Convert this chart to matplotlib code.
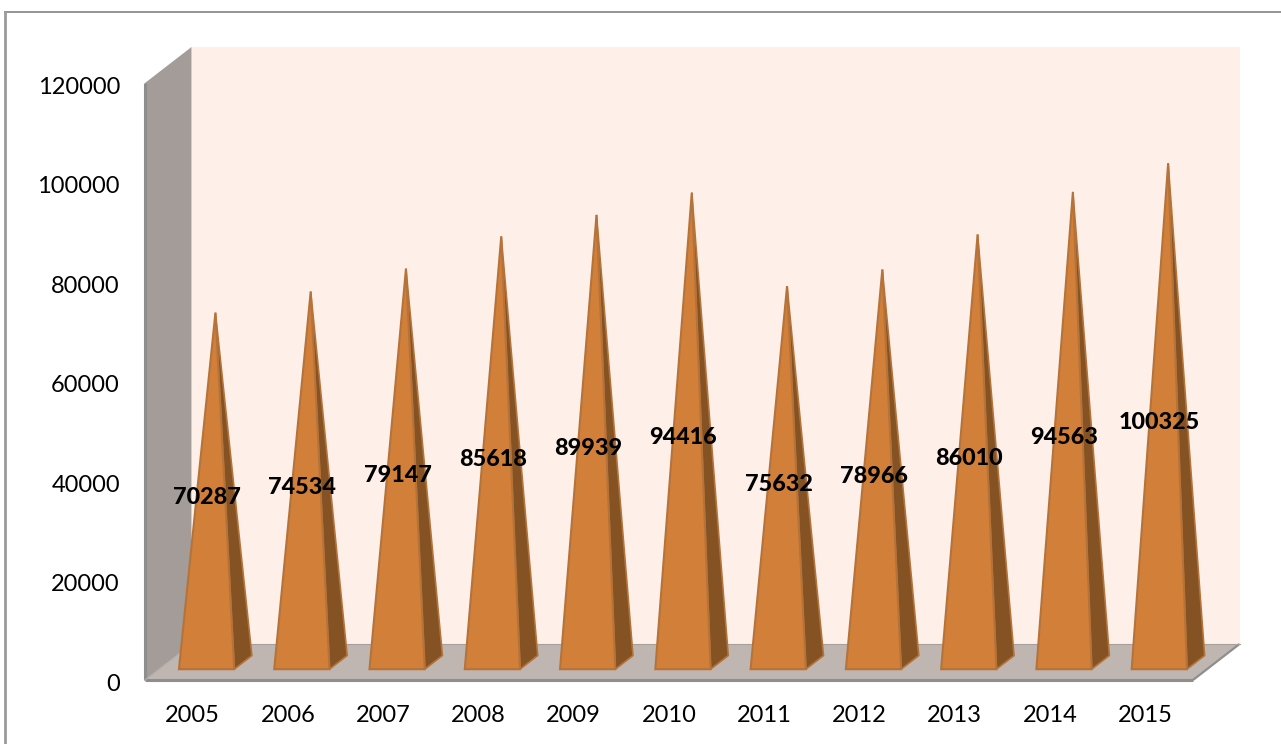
#!/bin/env python3

import numpy as np
from matplotlib import pyplot as plt
from matplotlib.lines import Line2D
from matplotlib.patches import Polygon
from matplotlib.transforms import ScaledTranslation

years  = ['2005', '2006', '2007', '2008', '2009', '2010', '2011', '2012', '2013', '2014', '2015']
values = [70287, 74534, 79147, 85618, 89939, 94416, 75632, 78966, 86010, 94563, 100325]
yticks = [0, 20000, 40000, 60000, 80000, 100000, 120000]

W, H = 1281, 744
plt.rcParams['font.family'] = ['Lato', 'DejaVu Sans']

# depth of the fake 3d box, in data units
depth_x = 46.5 / 95.27
depth_y = 36 / (597 / 120000)

# pieces of the column, as fraction of the depth
front_d = 0.30
back_d  = 0.68
half_w  = 0.29


def proj(x, y, d):
    return (x + d * depth_x, y + d * depth_y)


fig = plt.figure(figsize=(W / 100, H / 100), dpi=100)

# chart border: only top and left show up in the picture
fig.add_artist(Line2D([5 / W, 1], [1 - 11.5 / H, 1 - 11.5 / H], color='#8c8c8c', linewidth=1.3))
fig.add_artist(Line2D([5 / W, 5 / W], [0, 1 - 11.5 / H], color='#9a9a9a', linewidth=2.0))

ax = fig.add_axes([145 / W, 1 - 680 / H, (1193 - 145) / W, (680 - 83) / H])
ax.set_xlim(0, len(years))
ax.set_ylim(0, 120000)
ax.patch.set_visible(False)
for s in ax.spines.values():
    s.set_visible(False)

xmax = len(years)
ymax = yticks[-1]

# walls and floor
ax.add_patch(Polygon([proj(0, 0, 1), proj(xmax, 0, 1), proj(xmax, ymax, 1), proj(0, ymax, 1)],
                     facecolor='#feefe8', edgecolor='none', clip_on=False, zorder=1))
ax.add_patch(Polygon([proj(0, 0, 0), proj(0, 0, 1), proj(0, ymax, 1), proj(0, ymax, 0)],
                     facecolor='#a39c98', edgecolor='none', clip_on=False, zorder=2))
ax.add_patch(Polygon([proj(0, 0, 0), proj(xmax, 0, 0), proj(xmax, 0, 1), proj(0, 0, 1)],
                     facecolor='#bfb6b2', edgecolor='none', clip_on=False, zorder=2))
edge = dict(color='#8e8e8e', clip_on=False, zorder=3, solid_capstyle='butt')
ax.plot([0, 0], [0, ymax], linewidth=2.2, **edge)
ax.plot([0, xmax], [0, 0], linewidth=2.2, **edge)
ax.plot(*zip(proj(xmax, 0, 0), proj(xmax, 0, 1)), linewidth=1.6, **edge)
ax.plot(*zip(proj(0, 0, 1), proj(xmax, 0, 1)), linewidth=0.8, color='#a8a09c', clip_on=False, zorder=3)
ax.plot(*zip(proj(0, 0, 0), proj(0, 0, 1)), linewidth=0.8, color='#b4aca8', clip_on=False, zorder=3)

# columns
for i, v in enumerate(values):
    c = i + 0.5
    left  = proj(c - half_w, 0, front_d)
    right = proj(c + half_w, 0, front_d)
    rback = proj(c + half_w, 0, back_d)
    apex  = proj(c, v, (front_d + back_d) / 2)
    ax.add_patch(Polygon([right, rback, apex], facecolor='#855223', edgecolor='#b5733a',
                         linewidth=1.2, clip_on=False, zorder=4))
    ax.add_patch(Polygon([left, right, apex], facecolor='#d27f3a', edgecolor='#b5733a',
                         linewidth=1.5, clip_on=False, zorder=5))
    ax.text(c + 0.15, v / 2 + 1500, str(v), ha='center', va='center', fontsize=16.8,
            fontweight=900, color='black', zorder=6)

ax.set_xticks(np.arange(len(years)) + 0.5)
ax.set_xticklabels(years)
ax.set_yticks(yticks)
ax.tick_params(axis='both', length=0, labelsize=17, labelcolor='black')
ax.tick_params(axis='x', pad=18)
ax.tick_params(axis='y', pad=18)
down = ScaledTranslation(0, -1.5 / 72, fig.dpi_scale_trans)
for lab in ax.get_yticklabels():
    lab.set_transform(lab.get_transform() + down)

plt.savefig('out.png', dpi=100)
